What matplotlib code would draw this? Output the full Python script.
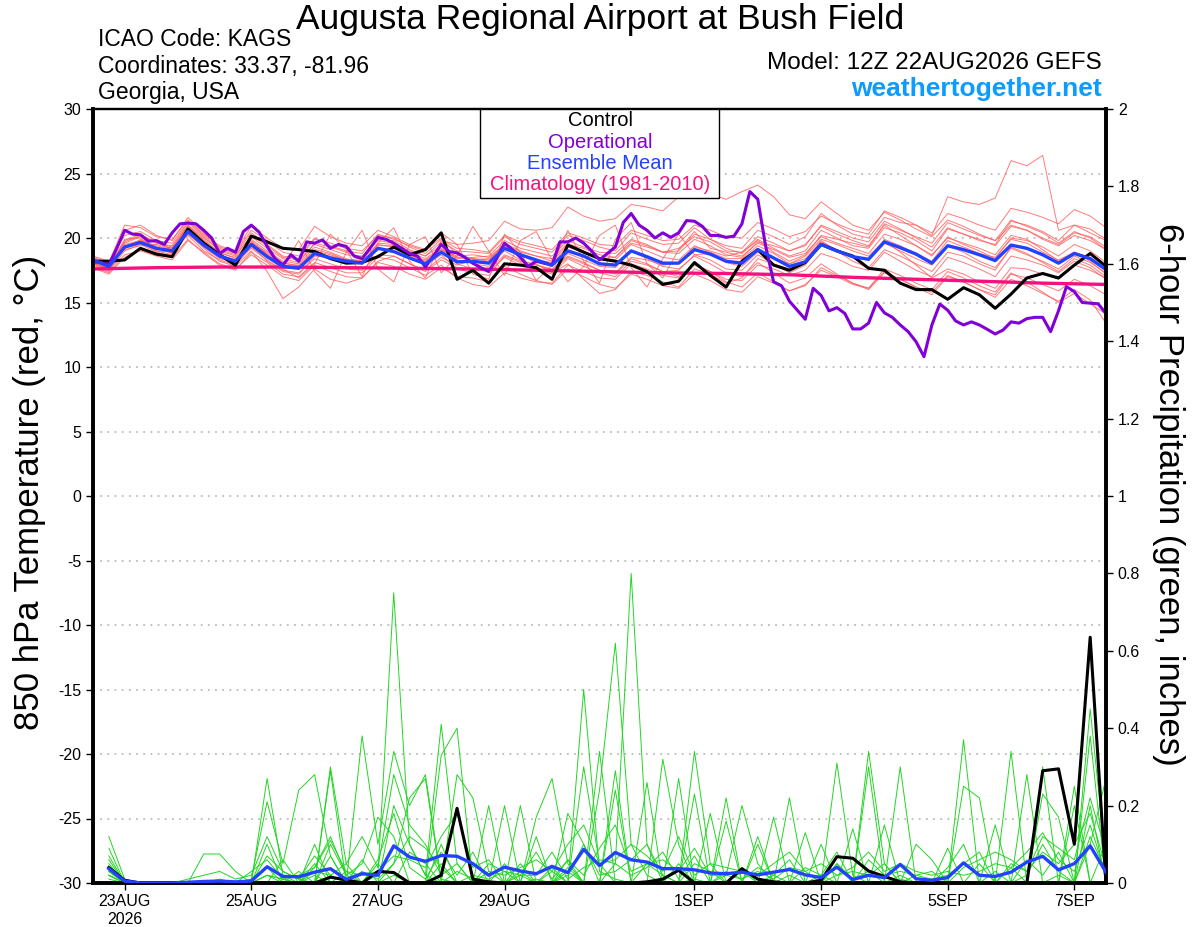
import numpy as np
import matplotlib
matplotlib.use("Agg")
import matplotlib.pyplot as plt
from matplotlib.patches import Rectangle

plt.rcParams['font.family'] = ['Liberation Sans', 'DejaVu Sans']

# 6-hourly steps from 12Z 22AUG2026
hours = np.arange(0, 385, 6)
op_hours = np.arange(0, 385, 3)
clim_hours = np.arange(0, 385, 24)
pcp_hours = hours[1:]

tick_hours = [12, 60, 108, 156, 228, 276, 324, 372]
tick_labels = ['23AUG\n2026', '25AUG', '27AUG', '29AUG', '1SEP', '3SEP', '5SEP', '7SEP']

# 850 hPa temperature (C)
control_t = [18.2, 18.2, 18.3, 19.2, 18.75, 18.55, 20.7, 19.6, 18.7, 17.9, 20.15, 19.7, 19.2, 19.1, 18.95, 18.4,
             18.05, 18.1, 18.55, 19.3, 18.7, 19.1, 20.4, 16.8,
             17.5, 16.5, 18.0, 17.9, 17.7, 16.8, 19.45, 18.9, 18.4, 18.2, 17.9, 17.4, 16.4, 16.65, 18.1, 17.1,
             16.2, 18.2, 19.1, 17.9, 17.5, 18.1, 19.5, 19.0, 18.6,
             17.65, 17.5, 16.5, 16.0, 16.0, 15.25, 16.15, 15.6, 14.55, 15.65, 16.9, 17.25, 16.9, 17.9, 18.8, 17.8]
mean_t = [18.3, 17.8, 19.3, 19.65, 19.2, 19.0, 20.5, 19.45, 18.6, 18.2, 19.5, 18.55, 17.8, 17.65, 18.8, 18.45,
          18.2, 18.05, 19.2, 18.95, 18.45, 18.0, 18.9, 18.15,
          18.2, 18.05, 19.2, 18.7, 18.3, 17.9, 19.0, 18.6, 18.0, 17.9, 19.0, 18.55, 18.05, 18.05, 19.1, 18.75,
          18.2, 18.05, 19.1, 18.45, 17.8, 18.15, 19.5, 19.0, 18.55,
          18.35, 19.7, 19.25, 18.75, 18.05, 19.4, 19.1, 18.7, 18.25, 19.45, 19.2, 18.7, 18.05, 18.8, 18.4, 17.55]
oper_t = [18.15, 18.1, 17.9, 19.2, 20.6, 20.3, 20.25, 19.75, 19.8, 19.5, 20.4, 21.1, 21.15, 21.1, 20.6, 20.0,
          18.8, 19.2, 18.9, 20.5, 21.0, 20.45, 19.35, 18.4, 17.9, 18.7, 18.2, 19.7, 19.6, 19.85, 19.2, 19.5,
          19.35, 18.6, 18.4, 19.2, 20.05, 19.9, 19.6, 19.2, 18.8, 18.6, 17.75, 18.6, 19.5, 18.95, 18.85,
          18.5, 18.04, 17.7, 17.4, 18.4, 19.6, 19.1, 18.5, 17.8, 18.2, 18.04, 17.9, 19.7, 19.7, 20.0, 19.6,
          19.0, 18.3, 18.8, 19.3, 21.2, 21.9, 21.0, 20.6, 20.0, 20.4, 20.05, 20.4, 21.35, 21.3, 20.9, 20.2,
          20.2, 20.05, 20.15, 21.1, 23.6, 23.0, 19.35, 16.6, 16.3, 15.1, 14.4, 13.7, 16.1, 15.55, 14.35, 14.6,
          14.15, 12.95,
          12.95, 13.4, 15.0, 14.2, 13.85, 13.26, 12.74, 11.96, 10.8, 13.26, 14.88, 14.4, 13.57, 13.26, 13.5,
          13.26, 12.92, 12.56, 12.87, 13.5, 13.4, 13.75, 13.85, 13.85, 12.74, 14.36, 16.23, 15.84, 15.0, 14.95,
          14.9, 14.15]
clim_t = [17.6, 17.7, 17.75, 17.75, 17.7, 17.65, 17.6, 17.5, 17.4, 17.3, 17.25, 17.15, 16.95, 16.8, 16.65,
          16.5, 16.4]

members_t = [
    [18.1, 17.6, 19.8, 20.3, 19.6, 19.4, 21.2, 20.1, 19.0, 18.6, 20.2, 19.4, 18.5,
     18.3, 19.5, 19.1, 18.7, 18.6, 19.8, 19.6, 19.0, 18.6, 19.7, 19.0, 18.9, 18.8,
     20.1, 19.5, 19.2, 18.9, 20.2, 19.8, 19.3, 19.0, 20.4, 19.9, 19.5, 19.6, 20.8,
     19.9, 19.4, 19.2, 20.6, 20.1, 19.5, 20.1, 21.9, 21.0, 20.3, 20.0, 21.6, 21.2,
     21.0, 20.2, 23.2, 22.8, 22.6, 23.1, 26.0, 25.6, 26.4, 20.6, 21.0, 20.4, 19.8],
    [18.4, 18.0, 20.6, 21.0, 20.2, 19.8, 21.6, 20.4, 19.3, 18.9, 20.6, 19.8, 18.9,
     18.6, 20.0, 19.4, 19.0, 18.8, 20.3, 19.9, 19.4, 19.0, 20.4, 19.5, 19.6, 19.8,
     21.3, 20.7, 20.6, 20.8, 22.4, 21.7, 21.3, 21.5, 22.6, 22.4, 22.1, 23.2, 24.0,
     23.4, 23.0, 23.6, 24.1, 23.2, 21.8, 21.5, 22.8, 21.9, 21.0, 20.6, 22.0, 21.4,
     20.7, 20.1, 21.4, 20.9, 20.3, 19.8, 21.0, 20.6, 19.9, 19.4, 20.2, 19.8, 19.1],
    [17.8, 17.3, 18.7, 19.0, 18.6, 18.3, 19.8, 18.9, 18.0, 17.6, 18.7, 17.9, 17.0,
     16.7, 17.9, 17.4, 17.0, 16.9, 18.1, 17.8, 17.2, 16.8, 17.7, 17.0, 16.9, 16.6,
     17.8, 17.2, 16.7, 16.4, 17.6, 17.0, 16.4, 16.1, 17.2, 16.8, 16.3, 16.1, 17.2,
     16.7, 16.0, 15.8, 17.0, 16.5, 15.9, 16.3, 17.7, 17.1, 16.5, 16.0, 17.3, 16.8,
     16.2, 15.6, 17.0, 16.6, 16.0, 15.4, 16.8, 16.3, 15.7, 15.1, 16.0, 15.2, 13.4],
    [18.2, 17.9, 19.1, 19.4, 19.5, 19.2, 20.9, 19.9, 18.8, 18.5, 19.9, 19.0, 18.2,
     18.0, 19.3, 18.9, 18.4, 18.0, 19.6, 19.5, 18.7, 18.1, 19.0, 18.0, 17.6, 17.4,
     18.5, 17.9, 17.6, 17.2, 18.4, 17.8, 17.3, 17.0, 18.2, 17.9, 17.4, 17.5, 18.7,
     18.3, 17.6, 17.5, 18.7, 18.0, 17.3, 17.9, 19.6, 19.1, 18.5, 18.3, 19.9, 19.4,
     18.8, 18.2, 19.8, 19.3, 18.8, 18.5, 19.9, 19.6, 18.9, 18.3, 18.9, 18.5, 17.6],
    [18.0, 17.5, 19.4, 19.7, 19.0, 18.9, 20.4, 19.2, 18.2, 17.8, 19.0, 17.4, 15.3,
     16.2, 17.6, 16.8, 16.5, 16.9, 18.2, 18.6, 18.0, 17.5, 18.5, 17.9, 18.3, 18.4,
     19.4, 18.8, 18.0, 17.3, 18.0, 16.8, 15.7, 16.0, 17.4, 17.1, 16.6, 16.2, 17.6,
     17.2, 16.5, 16.9, 18.4, 18.0, 17.6, 18.2, 19.8, 19.0, 18.2, 17.7, 19.1, 18.6,
     18.0, 17.4, 18.9, 18.6, 18.0, 17.5, 19.3, 18.8, 18.1, 17.4, 18.4, 17.9, 17.0],
    [18.5, 18.1, 21.0, 20.8, 20.1, 19.9, 21.4, 20.3, 19.4, 19.0, 20.9, 20.0, 19.2,
     19.1, 20.9, 20.1, 19.6, 19.4, 20.6, 20.1, 19.5, 19.1, 20.0, 18.7, 18.4, 18.2,
     19.6, 19.0, 18.6, 18.2, 19.5, 19.2, 18.7, 18.5, 19.8, 19.4, 18.9, 19.0, 20.3,
     19.9, 19.2, 18.8, 19.9, 19.2, 18.6, 19.0, 20.6, 20.0, 19.4, 19.2, 20.8, 20.4,
     19.8, 19.0, 20.7, 20.3, 19.9, 19.4, 20.9, 20.6, 20.0, 19.5, 20.4, 20.1, 19.3],
    [18.3, 17.7, 19.2, 19.9, 19.3, 18.8, 20.6, 19.6, 18.7, 18.3, 19.6, 18.9, 18.1,
     17.8, 19.0, 18.7, 18.3, 18.1, 19.2, 18.9, 18.5, 17.9, 18.7, 17.6, 17.3, 17.1,
     18.6, 18.1, 17.7, 17.4, 18.8, 18.3, 17.8, 17.7, 19.0, 18.4, 17.8, 17.6, 18.6,
     18.0, 17.3, 17.0, 18.1, 17.3, 16.5, 16.9, 18.0, 17.2, 16.5, 16.1, 17.4, 16.8,
     16.2, 15.8, 17.1, 16.6, 16.0, 15.6, 17.2, 16.9, 16.4, 15.9, 16.8, 16.3, 15.6],
    [18.4, 17.8, 19.9, 20.0, 19.1, 19.3, 20.2, 19.0, 18.3, 17.9, 19.3, 18.5, 17.6,
     16.9, 18.0, 20.3, 19.1, 17.0, 19.6, 20.8, 18.2, 16.9, 19.8, 19.5, 17.2, 16.8,
     20.3, 18.9, 16.7, 17.9, 20.6, 18.2, 16.5, 19.9, 21.2, 18.0, 16.9, 19.1, 20.5,
     19.2, 18.9, 18.6, 19.6, 19.1, 18.5, 18.8, 20.1, 19.6, 19.2, 18.8, 20.3, 19.9,
     19.4, 18.6, 20.1, 19.5, 19.0, 18.4, 20.0, 19.8, 19.3, 18.6, 19.5, 19.0, 18.1],
    [17.9, 17.4, 19.0, 19.5, 18.9, 18.6, 20.5, 19.4, 18.5, 18.0, 19.4, 18.2, 17.4,
     17.2, 18.6, 18.5, 18.1, 18.3, 19.1, 19.2, 18.6, 18.3, 19.1, 18.6, 18.7, 18.5,
     19.5, 18.9, 18.6, 18.4, 19.6, 19.0, 18.4, 18.3, 19.5, 19.0, 18.5, 18.3, 19.4,
     18.9, 18.4, 18.4, 19.4, 18.8, 18.0, 18.6, 19.9, 19.5, 19.0, 18.6, 19.8, 18.9,
     17.9, 16.9, 17.6, 17.2, 16.6, 16.1, 17.7, 17.6, 17.2, 16.8, 17.9, 17.5, 16.9],
    [18.2, 17.6, 19.5, 19.8, 19.4, 19.1, 20.8, 19.8, 18.9, 18.4, 19.8, 18.8, 18.0,
     17.9, 19.1, 18.8, 18.3, 18.2, 19.4, 19.4, 18.9, 18.4, 19.2, 18.5, 18.4, 18.3,
     19.3, 18.6, 18.3, 18.1, 19.3, 18.9, 18.4, 18.5, 19.6, 19.3, 18.9, 19.2, 20.1,
     19.7, 19.0, 18.9, 19.8, 18.9, 18.2, 18.7, 20.2, 19.9, 19.6, 19.3, 21.1, 20.6,
     20.1, 19.6, 21.2, 20.7, 20.2, 19.8, 21.4, 20.9, 20.4, 19.6, 20.5, 20.0, 19.1],
    [18.1, 17.5, 19.2, 19.6, 19.0, 18.7, 20.3, 19.3, 18.4, 18.1, 19.2, 18.3, 17.5,
     17.3, 18.4, 18.0, 17.6, 17.5, 18.7, 18.6, 18.0, 17.4, 18.3, 17.7, 17.6, 17.5,
     18.7, 18.2, 17.9, 17.5, 18.5, 18.0, 17.5, 17.2, 18.4, 18.0, 17.4, 17.0, 18.0,
     17.4, 16.6, 16.2, 17.3, 16.6, 15.9, 16.4, 17.5, 17.0, 16.4, 16.1, 17.6, 17.1,
     16.5, 16.0, 17.4, 16.9, 16.3, 15.8, 17.3, 16.6, 15.8, 15.0, 15.7, 14.9, 14.1],
    [18.3, 17.9, 19.6, 20.1, 19.6, 19.3, 21.0, 20.0, 19.1, 18.7, 20.1, 19.2, 18.4,
     18.1, 19.6, 19.3, 18.9, 18.5, 19.9, 19.8, 19.1, 18.6, 19.4, 18.3, 18.0, 17.8,
     19.0, 18.3, 17.9, 17.6, 18.6, 18.1, 17.5, 17.3, 18.5, 18.3, 17.9, 18.1, 19.3,
     19.0, 18.6, 18.9, 20.1, 19.6, 19.0, 19.4, 21.0, 20.5, 20.0, 19.7, 21.3, 20.7,
     20.0, 19.3, 20.8, 20.3, 19.8, 19.5, 21.3, 21.0, 20.5, 19.8, 21.0, 20.7, 19.9],
    [18.6, 18.2, 20.2, 20.5, 19.8, 19.6, 21.3, 20.2, 19.2, 18.8, 20.4, 19.5, 18.6,
     18.4, 19.9, 19.6, 19.2, 19.0, 20.2, 20.0, 19.3, 18.8, 19.9, 19.2, 19.1, 18.9,
     20.2, 19.7, 19.4, 19.1, 20.4, 20.0, 19.5, 19.4, 20.6, 20.2, 19.8, 19.9, 21.0,
     20.6, 20.1, 20.0, 21.2, 20.7, 20.1, 20.5, 21.7, 21.1, 20.6, 20.3, 22.1, 21.6,
     21.0, 20.4, 21.9, 21.5, 21.0, 20.6, 22.3, 22.0, 21.6, 21.1, 22.2, 21.7, 20.8],
    [17.7, 17.2, 18.5, 19.1, 18.7, 18.5, 19.9, 18.8, 17.9, 17.5, 18.9, 18.1, 17.2,
     17.0, 18.1, 17.7, 17.3, 17.3, 18.5, 18.3, 17.7, 17.1, 17.9, 16.9, 16.4, 16.2,
     17.3, 16.9, 16.6, 16.5, 17.9, 17.4, 16.9, 16.8, 18.0, 17.6, 17.1, 16.9, 17.9,
     17.4, 16.8, 16.7, 17.9, 17.6, 17.1, 17.5, 18.8, 18.4, 17.8, 17.5, 18.9, 18.2,
     17.5, 17.0, 18.5, 18.1, 17.6, 17.0, 18.6, 18.3, 17.9, 17.3, 18.2, 17.7, 16.8],
    [18.2, 17.7, 19.7, 20.2, 19.7, 19.1, 21.0, 19.7, 18.6, 18.3, 19.7, 18.7, 17.9,
     17.6, 18.9, 18.6, 18.3, 18.4, 19.5, 19.3, 18.7, 18.2, 19.1, 18.4, 18.5, 18.6,
     19.8, 19.2, 18.9, 18.6, 19.8, 19.3, 18.9, 18.8, 19.9, 19.5, 18.9, 18.8, 19.9,
     19.4, 18.7, 18.5, 19.7, 19.4, 19.0, 19.5, 20.9, 20.3, 19.8, 19.4, 21.0, 20.2,
     19.4, 18.7, 20.0, 19.6, 19.2, 18.7, 20.2, 19.9, 19.1, 18.2, 18.9, 18.2, 17.2],
    [18.0, 17.6, 19.3, 19.8, 19.2, 18.9, 20.7, 19.6, 18.6, 18.2, 19.6, 18.7, 17.8,
     19.8, 17.4, 16.1, 18.9, 20.6, 17.6, 16.6, 19.5, 20.1, 17.3, 18.6, 20.9, 19.0,
     17.1, 19.8, 20.5, 18.3, 16.6, 17.8, 20.2, 21.0, 17.7, 16.2, 18.4, 20.3, 18.7,
     18.8, 18.1, 17.8, 18.9, 18.5, 18.0, 18.4, 19.7, 19.1, 18.6, 18.3, 19.6, 19.0,
     18.4, 17.9, 19.4, 18.9, 18.2, 17.7, 19.2, 18.7, 18.2, 17.6, 18.6, 18.1, 17.3],
]

# 6-hour precipitation (inches), periods ending 18Z 22AUG .. 12Z 7SEP
control_p = [0.04, 0.007, 0, 0, 0, 0, 0, 0, 0, 0, 0, 0, 0, 0, 0.015, 0.008,
             0, 0.03, 0.027, 0, 0, 0.02, 0.193, 0.01, 0.003, 0, 0, 0, 0, 0, 0, 0,
             0, 0, 0.003, 0.01, 0.033, 0, 0, 0, 0.037, 0.01, 0.003, 0, 0, 0.007, 0.068, 0.064,
             0.031, 0.017, 0.003, 0, 0, 0, 0, 0, 0, 0, 0, 0.29, 0.295, 0.1, 0.635, 0]
mean_p = [0.037, 0.005, 0, 0, 0, 0.002, 0.004, 0.005, 0.003, 0.005, 0.042, 0.017, 0.016, 0.028, 0.037, 0.009,
          0.024, 0.02, 0.096, 0.067, 0.056, 0.071, 0.069, 0.05, 0.02, 0.041, 0.031, 0.024, 0.043, 0.027, 0.087, 0.045,
          0.079, 0.06, 0.054, 0.037, 0.037, 0.034, 0.026, 0.024, 0.028, 0.021, 0.028, 0.035, 0.021, 0.014, 0.041, 0.009,
          0.02, 0.014, 0.048, 0.011, 0.007, 0.014, 0.052, 0.02, 0.017, 0.028, 0.054, 0.069, 0.034, 0.05, 0.096, 0.028]

members_p = [
    [0.12, 0.01, 0, 0, 0, 0, 0, 0, 0, 0, 0.02, 0.01, 0, 0, 0.30, 0.05,
     0, 0.02, 0.75, 0.10, 0.02, 0, 0.03, 0.01, 0, 0, 0.02, 0, 0.04, 0, 0.50, 0.03,
     0.01, 0, 0.05, 0.02, 0, 0.01, 0, 0, 0.03, 0, 0, 0.02, 0, 0, 0.31, 0.02,
     0, 0, 0.01, 0, 0, 0, 0, 0.05, 0, 0, 0.02, 0.10, 0.03, 0, 0.45, 0.05],
    [0.09, 0, 0, 0, 0, 0, 0.075, 0.075, 0.03, 0, 0.27, 0.02, 0, 0.05, 0, 0,
     0.38, 0.10, 0.34, 0.20, 0.28, 0.01, 0, 0, 0.05, 0.03, 0, 0.01, 0, 0.06, 0, 0.24,
     0.62, 0.10, 0.02, 0, 0.05, 0, 0, 0.02, 0.20, 0.05, 0, 0, 0, 0.02, 0, 0,
     0.34, 0.05, 0, 0, 0.01, 0, 0.37, 0, 0, 0.04, 0, 0.30, 0, 0, 0.38, 0],
    [0.07, 0, 0, 0, 0, 0, 0, 0, 0, 0.01, 0.21, 0.05, 0.24, 0.28, 0.07, 0,
     0, 0, 0.20, 0.10, 0.02, 0.41, 0.05, 0, 0, 0.20, 0, 0, 0, 0.03, 0, 0,
     0.05, 0.80, 0.10, 0, 0, 0, 0, 0.22, 0, 0, 0, 0, 0, 0, 0, 0,
     0, 0, 0, 0, 0, 0, 0, 0, 0, 0.34, 0, 0, 0.02, 0, 0.10, 0.27],
    [0.05, 0, 0, 0, 0, 0, 0, 0, 0, 0, 0.07, 0.03, 0.01, 0, 0.29, 0,
     0, 0.05, 0, 0, 0, 0.33, 0.40, 0, 0, 0, 0.20, 0, 0.03, 0, 0.30, 0.05,
     0, 0, 0.26, 0, 0, 0.34, 0.05, 0, 0, 0, 0.17, 0, 0, 0, 0, 0,
     0.30, 0, 0, 0, 0, 0, 0, 0, 0, 0, 0, 0, 0, 0.25, 0, 0],
    [0.04, 0, 0, 0, 0, 0, 0, 0, 0, 0, 0.02, 0, 0, 0.10, 0, 0,
     0, 0, 0.05, 0.22, 0.27, 0, 0.28, 0.22, 0.03, 0, 0, 0.17, 0.27, 0.05, 0, 0,
     0.29, 0, 0, 0.32, 0.10, 0, 0.18, 0, 0, 0.10, 0, 0.22, 0, 0, 0.05, 0,
     0, 0, 0.30, 0, 0, 0, 0.25, 0.22, 0, 0, 0, 0, 0, 0, 0.20, 0],
    [0.03, 0, 0, 0, 0, 0, 0, 0, 0, 0, 0, 0.06, 0, 0, 0.10, 0.02,
     0.05, 0.17, 0.12, 0, 0, 0.10, 0, 0, 0.20, 0, 0.03, 0, 0, 0.18, 0.10, 0,
     0, 0, 0, 0, 0.27, 0, 0, 0, 0, 0, 0, 0, 0.13, 0, 0, 0.14,
     0, 0.15, 0, 0, 0, 0.09, 0, 0, 0.15, 0, 0.28, 0, 0, 0, 0, 0],
    [0.02, 0, 0, 0, 0, 0, 0, 0, 0, 0, 0, 0, 0.03, 0, 0.07, 0,
     0.06, 0, 0, 0.08, 0.05, 0, 0, 0, 0, 0, 0, 0, 0, 0, 0, 0.34,
     0, 0, 0, 0, 0, 0.23, 0, 0, 0, 0.12, 0, 0, 0, 0.10, 0, 0,
     0, 0, 0, 0.10, 0.06, 0, 0, 0, 0, 0, 0, 0.23, 0.17, 0, 0, 0],
    [0.06, 0, 0, 0, 0, 0, 0, 0, 0, 0.01, 0.04, 0, 0, 0.02, 0, 0.03,
     0, 0, 0.02, 0, 0, 0.05, 0, 0, 0, 0, 0.05, 0, 0, 0.04, 0, 0,
     0.24, 0, 0, 0, 0, 0, 0, 0.16, 0, 0, 0, 0, 0, 0, 0, 0,
     0, 0, 0, 0, 0, 0, 0, 0, 0, 0, 0, 0, 0, 0.20, 0, 0.10],
    [0.01, 0, 0, 0, 0, 0, 0, 0, 0, 0, 0.10, 0, 0, 0.04, 0.12, 0.02,
     0, 0.06, 0.18, 0.04, 0.01, 0.08, 0.02, 0.08, 0, 0.05, 0, 0.12, 0, 0.02, 0.10, 0.02,
     0.03, 0.06, 0.10, 0.02, 0, 0.05, 0.03, 0, 0.04, 0, 0.02, 0.06, 0, 0, 0.05, 0.01,
     0.03, 0, 0.02, 0, 0, 0.04, 0.10, 0, 0.03, 0, 0.06, 0.02, 0.08, 0, 0.12, 0.03],
    [0.02, 0, 0, 0, 0, 0.01, 0.02, 0.03, 0.01, 0.02, 0.12, 0.03, 0.01, 0.07, 0.02, 0,
     0.03, 0.01, 0.05, 0.12, 0.09, 0.04, 0, 0.02, 0.01, 0.03, 0.02, 0.02, 0.08, 0.01, 0.04, 0.06,
     0.05, 0.02, 0.04, 0.08, 0.01, 0.07, 0, 0.03, 0.01, 0.04, 0.02, 0, 0.04, 0.02, 0.08, 0,
     0.06, 0.02, 0.03, 0.02, 0.01, 0.02, 0.05, 0.08, 0, 0.05, 0.03, 0.08, 0.05, 0.10, 0.18, 0.04],
    [0.03, 0, 0, 0, 0, 0, 0, 0.01, 0, 0.03, 0.06, 0.01, 0, 0.03, 0.02, 0.05,
     0.12, 0.04, 0.28, 0.15, 0.10, 0.02, 0.05, 0, 0.03, 0.02, 0.04, 0.06, 0.03, 0.10, 0.15, 0.05,
     0.06, 0.10, 0.07, 0.03, 0.12, 0.02, 0.05, 0.04, 0.03, 0.02, 0.05, 0.08, 0.03, 0, 0.02, 0.03,
     0.02, 0.05, 0, 0.02, 0.03, 0, 0.04, 0.06, 0.08, 0.06, 0.03, 0.12, 0.09, 0.06, 0.22, 0.08],
    [0.02, 0, 0, 0, 0, 0, 0, 0, 0, 0, 0.02, 0.01, 0.02, 0.04, 0.11, 0.03,
     0.02, 0.03, 0.07, 0.06, 0.04, 0.12, 0.18, 0.04, 0.06, 0, 0.02, 0.08, 0.01, 0.06, 0.02, 0.09,
     0.15, 0.03, 0.05, 0.06, 0.03, 0.09, 0.02, 0.02, 0.01, 0.03, 0.01, 0.04, 0.03, 0.05, 0.02, 0.04,
     0.08, 0.03, 0.05, 0.03, 0.02, 0.03, 0.02, 0.03, 0.05, 0.04, 0.08, 0.13, 0.06, 0.03, 0.15, 0.02],
]

RED = '#ff5a5a'
GREEN = '#22d622'
PURPLE = '#8000d8'
BLUE = '#2242ff'
PINK = '#f5127e'

W, H = 1200, 927
fig = plt.figure(figsize=(12, 9.27), dpi=100)
L, R, B, T = 93, 1106, 883, 109
ax = fig.add_axes([L / W, 1 - B / H, (R - L) / W, (B - T) / H])
ax2 = ax.twinx()

# temperature panel
for m in members_t:
    ax.plot(hours, m, color=RED, lw=0.7, alpha=0.8, zorder=2)
ax.plot(clim_hours, clim_t, color=PINK, lw=2.4, zorder=3)
ax.plot(hours, control_t, color='black', lw=2.2, zorder=4)
ax.plot(op_hours, oper_t, color=PURPLE, lw=2.2, zorder=5)
ax.plot(hours, mean_t, color=BLUE, lw=2.4, zorder=6)

# precipitation panel
for m in members_p:
    ax2.plot(pcp_hours, m, color=GREEN, lw=0.7, zorder=2)
ax2.plot(pcp_hours, control_p, color='black', lw=2.2, zorder=3)
ax2.plot(pcp_hours, mean_p, color=BLUE, lw=2.4, zorder=4)

ax.set_xlim(0, 384)
ax.set_ylim(-30, 30)
ax.set_yticks(np.arange(-30, 31, 5))
ax.set_yticklabels([str(v) for v in range(-30, 31, 5)])
ax2.set_ylim(0, 2)
ax2.set_yticks(np.arange(0, 2.01, 0.2))
ax2.set_yticklabels(['0', '0.2', '0.4', '0.6', '0.8', '1', '1.2', '1.4', '1.6', '1.8', '2'])
ax.set_xticks(tick_hours)
ax.set_xticklabels(tick_labels)

for v in range(-25, 30, 5):
    ax.axhline(v, color='#b0b0b0', lw=1.1, ls=(0, (1.2, 3.5)), zorder=1)

for a in (ax, ax2):
    a.tick_params(direction='out', length=5, width=1, labelsize=11.5, colors='black')
    for side in ('left', 'right', 'bottom'):
        a.spines[side].set_linewidth(2.6)
    a.spines['top'].set_linewidth(1.6)
ax.tick_params(axis='x', pad=3)

# legend box
ax2.add_patch(Rectangle((0.382, 0.885), 0.236, 0.115, transform=ax2.transAxes,
                        facecolor='white', edgecolor='black', lw=1.0, zorder=10))
leg = [('Control', 'black', 0.9845), ('Operational', PURPLE, 0.957),
       ('Ensemble Mean', BLUE, 0.930), ('Climatology (1981-2010)', PINK, 0.902)]
for txt, col, yy in leg:
    ax2.text(0.5005, yy, txt, color=col, fontsize=14.5, ha='center', va='center',
             transform=ax2.transAxes, zorder=11)

# header text
fig.text(0.5, 1 - 19 / H, 'Augusta Regional Airport at Bush Field', fontsize=25.5,
         ha='center', va='center')
fig.text(98 / W, 1 - 40 / H, 'ICAO Code: KAGS', fontsize=16.5, ha='left', va='center')
fig.text(98 / W, 1 - 66 / H, 'Coordinates: 33.37, -81.96', fontsize=16.5, ha='left', va='center')
fig.text(98 / W, 1 - 92 / H, 'Georgia, USA', fontsize=16.5, ha='left', va='center')
fig.text(1102 / W, 1 - 63 / H, 'Model: 12Z 22AUG2026 GEFS', fontsize=17.5, ha='right', va='center')
fig.text(1102 / W, 1 - 89 / H, 'weathertogether.net', fontsize=19, fontweight='bold',
         color='#0a9cff', ha='right', va='center')

fig.text(30 / W, 1 - 492 / H, '850 hPa Temperature (red, \u00b0C)', fontsize=25,
         rotation=90, ha='center', va='center')
fig.text(1168 / W, 1 - 494 / H, '6-hour Precipitation (green, inches)', fontsize=25,
         rotation=-90, ha='center', va='center')

fig.savefig('out.png', dpi=100)
